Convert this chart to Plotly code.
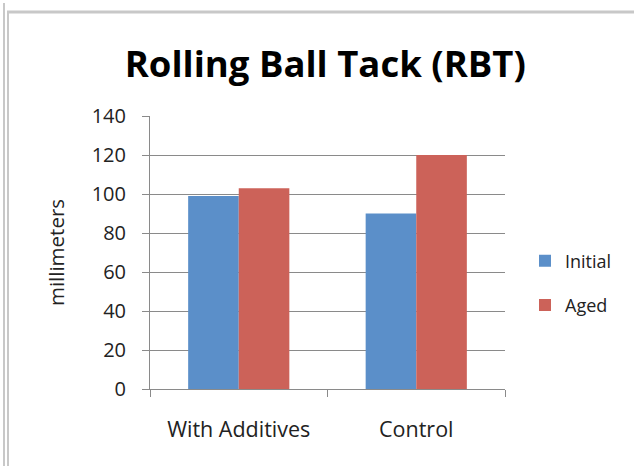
import plotly.graph_objects as go

categories = ["With Additives", "Control"]
initial_vals = [99, 90]
aged_vals = [103, 120]
y_ticks = [0, 20, 40, 60, 80, 100, 120, 140]

FONT = "Open Sans"
W, H = 634, 466
ML, MR, MT, MB = 150, 129, 116, 77
PW, PH = W - ML - MR, H - MT - MB


def px(x):
    return (x - ML) / PW


def py(y):
    return (H - MB - y) / PH


fig = go.Figure()
fig.add_trace(go.Bar(name="Initial", x=categories, y=initial_vals, legendgroup="a",
                     marker=dict(color="#5B8FC9", line=dict(width=0))))
fig.add_trace(go.Bar(name="Aged", x=categories, y=aged_vals, legendgroup="b",
                     marker=dict(color="#CC6259", line=dict(width=0))))

fig.update_layout(
    width=W, height=H,
    margin=dict(l=ML, r=MR, t=MT, b=MB),
    paper_bgcolor="white", plot_bgcolor="white",
    barmode="group", bargap=0.43, bargroupgap=0,
    font=dict(family=FONT, size=19, color="#222"),
    title=dict(text="<b>Rolling Ball Tack (RBT)</b>", x=0.513, xanchor="center",
               y=1 - 64 / H, yanchor="middle", font=dict(family=FONT, size=36.5, color="black")),
    showlegend=True,
    legend=dict(x=px(525), y=py(283), xanchor="left", yanchor="middle",
                font=dict(family=FONT, size=18, color="#222"),
                itemwidth=30, tracegroupgap=18, bgcolor="rgba(0,0,0,0)"),
    xaxis=dict(type="category", showline=True, linecolor="#8a8a8a", linewidth=1,
               ticks="outside", tickson="boundaries", ticklen=7, tickcolor="#8a8a8a",
               showgrid=False, tickfont=dict(size=21.5, color="#222"),
               ticklabelstandoff=21),
    yaxis=dict(range=[0, 140], tickvals=y_ticks, showline=True, linecolor="#8a8a8a",
               linewidth=1, ticks="outside", ticklen=7, tickcolor="#8a8a8a",
               showgrid=True, gridcolor="#8a8a8a", gridwidth=1,
               title=dict(text="millimeters", font=dict(size=20.5, color="#222"), standoff=21),
               tickfont=dict(size=20, color="#222"), zeroline=False,
               ticklabelstandoff=12),
    shapes=[
        dict(type="line", xref="paper", yref="paper", x0=px(7), x1=px(640), y0=py(12), y1=py(12),
             line=dict(color="#c8c8c8", width=3)),
        dict(type="line", xref="paper", yref="paper", x0=px(4), x1=px(4), y0=py(3), y1=py(470),
             line=dict(color="#c8c8c8", width=2)),
        dict(type="line", xref="paper", yref="paper", x0=px(8), x1=px(8), y0=py(12), y1=py(470),
             line=dict(color="#c8c8c8", width=2)),
    ],
)
fig.write_html("out.html", config={"displayModeBar": False},
               post_script="document.body.style.margin='0';")
